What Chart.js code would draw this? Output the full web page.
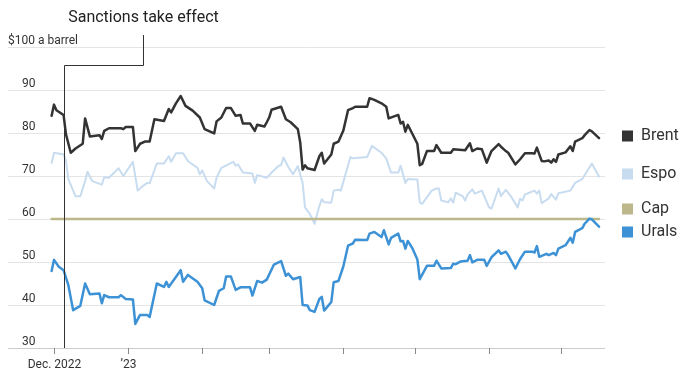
<!DOCTYPE html>
<html>
<head>
<meta charset="utf-8">
<script src="https://cdn.jsdelivr.net/npm/chart.js@4/dist/chart.umd.min.js"></script>
<style>
html,body{margin:0;padding:0;background:#fff;}
#wrap{position:relative;width:700px;height:379px;}
</style>
</head>
<body>
<div id="wrap"><canvas id="c" width="700" height="379"></canvas></div>
<script>
// x values are days since Dec. 1, 2022
const brentDays = [-1,0,1,4,5,7,9,12,13,15,19,20,21,23,28,29,30,33,34,36,38,40,42,46,48,49,51,53,55,58,61,63,67,68,70,72,74,76,78,79,82,84,85,88,89,90,91,95,97,99,102,103,104,105,106,109,111,112,113,116,117,119,121,123,125,126,131,132,134,137,139,140,144,145,146,147,148,150,152,153,154,156,159,160,162,166,167,172,173,174,175,177,179,181,183,186,187,189,190,193,195,197,200,201,202,204,205,207,208,209,210,211,214,216,217,218,221,222,224,225,228];
const brentPrices = [84.0,86.6,85.3,84.2,79.7,75.4,76.4,77.5,83.4,79.2,79.5,78.6,80.5,81.1,81.1,80.9,81.4,81.4,75.8,77.5,78.0,78.0,83.2,82.8,85.6,84.8,86.9,88.6,86.3,85.2,83.6,80.9,79.9,82.7,83.6,85.8,85.8,84.0,84.2,82.2,82.2,80.5,81.9,81.5,82.5,83.6,85.4,86.1,83.2,82.5,80.9,77.8,71.5,72.5,71.8,71.4,74.6,75.4,72.9,75.0,77.5,78.0,80.5,85.3,85.8,86.1,86.1,88.1,87.7,86.9,86.1,83.4,84.2,82.2,82.6,80.3,81.9,79.7,77.5,72.5,72.8,75.8,75.8,77.2,75.4,75.4,76.2,76.0,76.8,77.6,75.8,76.4,76.2,73.1,75.8,77.4,76.8,75.8,75.4,72.7,73.9,75.3,75.3,75.2,76.6,73.5,73.4,73.6,73.1,73.9,73.3,75.0,75.5,76.9,75.8,78.0,78.8,79.5,80.7,80.4,78.8];

const espoDays = [-1,0,4,5,6,9,11,13,14,16,20,21,23,27,29,33,35,37,39,40,43,46,48,49,51,54,56,60,61,62,64,67,68,70,75,76,77,79,83,84,85,89,91,94,95,96,98,100,102,104,105,107,109,111,112,113,116,117,119,120,124,125,131,133,137,139,141,144,145,147,148,152,153,154,158,160,161,162,165,166,167,168,171,172,173,175,176,179,182,183,186,187,189,191,194,195,196,197,201,202,203,204,207,208,210,211,216,218,221,225,228];
const espoPrices = [73.1,75.4,75.0,73.6,69.2,65.3,65.3,68.8,71.0,68.8,68.0,69.7,69.6,71.8,70.0,73.3,66.6,67.6,68.4,68.3,72.9,72.9,74.6,73.3,75.3,75.3,73.5,71.9,70.4,71.3,68.8,67.1,69.6,71.9,73.3,72.4,72.7,70.8,70.6,68.4,70.2,69.6,70.8,72.4,72.5,74.3,72.1,70.4,72.3,68.4,62.7,61.2,58.9,63.0,64.6,63.9,63.8,66.6,66.8,66.6,74.4,74.1,74.4,77.0,75.4,74.1,70.8,70.8,72.4,68.4,69.3,69.2,63.9,63.5,66.6,67.1,67.1,64.3,63.9,64.8,63.8,66.1,65.3,64.3,65.7,66.9,65.9,66.6,62.7,62.4,67.1,65.3,66.8,65.4,62.7,64.7,64.3,65.7,66.6,65.9,66.6,63.7,64.8,65.8,64.5,66.0,66.6,68.4,69.3,72.9,69.9];

const capDays = [-1,228];
const capPrices = [60,60];

const uralsDays = [-1,0,2,4,6,8,11,13,15,19,20,21,23,27,28,30,33,34,36,39,40,43,46,47,48,53,54,56,60,62,63,67,69,71,72,74,76,78,82,83,85,87,89,92,95,97,98,100,103,104,106,107,109,111,112,113,116,117,119,121,123,125,126,131,132,134,137,138,140,141,144,145,146,147,148,150,152,153,156,159,160,162,166,167,168,170,173,174,175,177,180,181,183,186,187,189,190,193,195,197,200,201,202,203,206,207,209,210,211,214,216,217,218,221,222,224,225,228];
const uralsPrices = [47.9,50.5,48.9,48.1,44.6,38.8,39.8,45.0,42.5,42.7,40.4,42.3,41.8,41.8,42.3,41.4,41.3,35.6,37.7,37.7,37.2,45.0,44.2,45.4,44.2,48.1,45.4,47.0,45.4,43.9,41.1,40.0,43.3,43.9,46.6,46.6,43.5,44.1,44.1,42.2,45.6,45.2,45.9,49.4,50.2,46.8,47.3,46.0,46.5,40.0,39.9,38.8,38.4,41.4,41.9,38.7,40.7,45.3,45.6,48.9,53.8,54.3,55.2,55.1,56.6,57.0,55.8,57.4,54.1,55.6,56.6,54.8,54.9,53.1,54.9,53.1,50.6,46.0,49.1,49.1,50.3,48.5,48.6,49.6,49.5,50.1,50.3,51.6,49.9,50.5,50.5,49.1,51.1,52.7,51.9,52.4,51.6,48.5,50.7,52.4,52.4,52.2,53.7,51.2,51.9,51.6,52.1,51.6,53.1,53.9,55.6,54.5,57.0,57.9,58.9,60.1,59.9,58.2];

const monthTickDays = [0,31,62,90,121,151,182,212];
const monthTickLabels = ['Dec. 2022','\u201923','','','','','',''];
const yTickValues = [30,40,50,60,70,80,90,100];
const yTickLabels = ['30','40','50','60','70','80','90','$100 a barrel'];
const sanctionsDay = 4;
const sanctionsLabel = 'Sanctions take effect';

const seriesNames = ['Brent','Urals','Cap','Espo'];
const seriesColors = {Brent:'#333333', Espo:'#c8dcf0', Cap:'#bdb88b', Urals:'#3d92d6'};
const legendOrder = ['Brent','Espo','Cap','Urals'];

function pts(xs, ys){ return xs.map((x,i)=>({x:x, y:ys[i]})); }

const FONT = 'Roboto, "Noto Sans", sans-serif';

const overlay = {
  id:'overlay',
  afterDatasetsDraw(chart){
    const ctx = chart.ctx, xs = chart.scales.x, ys = chart.scales.y, ca = chart.chartArea;
    ctx.save();
    // y labels
    ctx.fillStyle = '#333';
    ctx.font = '12px ' + FONT;
    ctx.textBaseline = 'alphabetic';
    ctx.textAlign = 'left';
    yTickValues.forEach((v,i)=>{
      const y = ys.getPixelForValue(v);
      const lab = yTickLabels[i];
      ctx.fillText(lab, i === yTickValues.length-1 ? 8 : 22, y - 3.5);
    });
    // x ticks
    ctx.strokeStyle = '#888';
    ctx.lineWidth = 1;
    monthTickDays.forEach((d,i)=>{
      const x = Math.round(xs.getPixelForValue(d)) + 0.5;
      ctx.beginPath(); ctx.moveTo(x, ca.bottom); ctx.lineTo(x, ca.bottom + 6); ctx.stroke();
      if (monthTickLabels[i]) {
        ctx.textAlign = 'center'; ctx.textBaseline = 'middle';
        ctx.fillText(monthTickLabels[i], x, ca.bottom + 17);
      }
    });
    // sanctions annotation
    const sx = Math.round(xs.getPixelForValue(sanctionsDay)) + 0.5;
    const elbowY = 65.5, textX = 143.5, topY = 35;
    ctx.strokeStyle = '#333';
    ctx.lineWidth = 1;
    ctx.beginPath();
    ctx.moveTo(sx, ca.bottom);
    ctx.lineTo(sx, elbowY);
    ctx.lineTo(textX, elbowY);
    ctx.lineTo(textX, topY);
    ctx.stroke();
    ctx.font = '16px ' + FONT;
    ctx.textAlign = 'center'; ctx.textBaseline = 'middle';
    ctx.fillStyle = '#222';
    ctx.fillText(sanctionsLabel, textX, 18);
    // legend at line ends
    const lastVals = {
      Brent: brentPrices[brentPrices.length-1],
      Espo: espoPrices[espoPrices.length-1],
      Cap: capPrices[capPrices.length-1],
      Urals: uralsPrices[uralsPrices.length-1]
    };
    let items = legendOrder.map(n=>({n, y: ys.getPixelForValue(lastVals[n]) - 2.5}));
    items.sort((a,b)=>a.y-b.y);
    const gap = 22.5;
    for (let iter=0; iter<20; iter++){
      let moved=false;
      for (let i=0;i<items.length-1;i++){
        const d = items[i+1].y - items[i].y;
        if (d < gap){ const s=(gap-d)/2; items[i].y-=s; items[i+1].y+=s; moved=true; }
      }
      if(!moved) break;
    }
    ctx.font = '16px ' + FONT;
    ctx.textAlign = 'left'; ctx.textBaseline = 'middle';
    items.forEach(it=>{
      ctx.fillStyle = seriesColors[it.n];
      ctx.fillRect(622, Math.round(it.y) - 5.5, 11, 11);
      ctx.fillStyle = '#333';
      ctx.fillText(it.n, 641, it.y);
    });
    ctx.restore();
  }
};

const datasets = [
  {label:'Brent', data:pts(brentDays, brentPrices), borderColor:seriesColors.Brent, borderWidth:2.5},
  {label:'Urals', data:pts(uralsDays, uralsPrices), borderColor:seriesColors.Urals, borderWidth:2.5},
  {label:'Cap', data:pts(capDays, capPrices), borderColor:seriesColors.Cap, borderWidth:2.5},
  {label:'Espo', data:pts(espoDays, espoPrices), borderColor:seriesColors.Espo, borderWidth:2}
].map(d=>Object.assign(d,{pointRadius:0, tension:0, fill:false, borderJoinStyle:'round', borderCapStyle:'round'}));

new Chart(document.getElementById('c'), {
  type:'line',
  data:{datasets},
  options:{
    responsive:false,
    animation:false,
    layout:{padding:{left:8, right:95, top:47, bottom:31}},
    plugins:{legend:{display:false}, tooltip:{enabled:false}},
    scales:{
      x:{type:'linear', display:false, min:-19.25, max:230.5},
      y:{type:'linear', min:30, max:100,
         ticks:{display:false, stepSize:10},
         border:{display:false},
         grid:{drawTicks:false, lineWidth:1, color:(c)=> c.tick && c.tick.value===30 ? '#cccccc' : '#e4e4e4'}}
    }
  },
  plugins:[overlay]
});
</script>
</body>
</html>
